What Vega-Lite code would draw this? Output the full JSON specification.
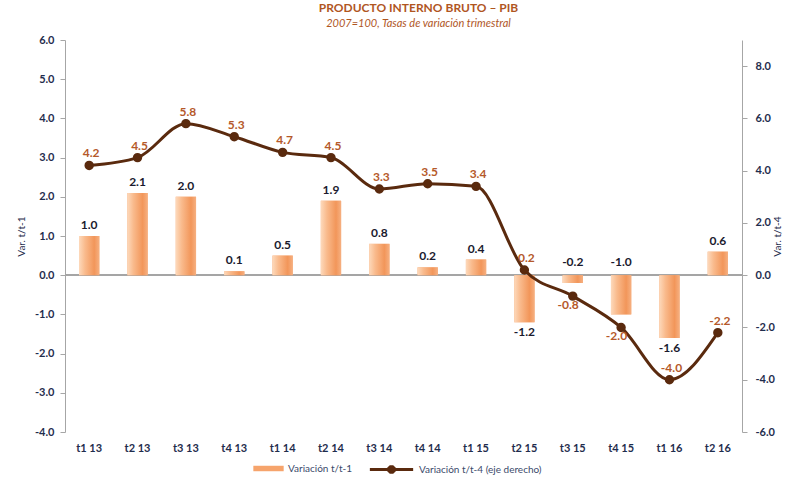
{
  "$schema": "https://vega.github.io/schema/vega-lite/v6.json",
  "width": 677,
  "height": 392,
  "autosize": {"type": "none"},
  "padding": {"left": 65, "top": 40, "right": 46, "bottom": 45},
  "background": "white",
  "config": {
    "view": {"stroke": null},
    "font": "Lato",
    "locale": {"number": {"decimal": ".", "thousands": ",", "grouping": [3], "currency": ["$", ""], "minus": "-"}}
  },
  "title": {
    "text": "PRODUCTO INTERNO BRUTO – PIB",
    "subtitle": "2007=100, Tasas de variación trimestral",
    "anchor": "middle",
    "dx": 15,
    "offset": 4,
    "fontSize": 12,
    "fontWeight": "bold",
    "color": "#b0561f",
    "subtitleFontSize": 11,
    "subtitleFontStyle": "italic",
    "subtitleColor": "#b0561f",
    "subtitlePadding": 3,
    "font": "Lato",
    "subtitleFont": "Lato"
  },
  "data": {
    "values": [
      {"t": "t1 13", "v1": 1.0, "v4": 4.2},
      {"t": "t2 13", "v1": 2.1, "v4": 4.5},
      {"t": "t3 13", "v1": 2.0, "v4": 5.8},
      {"t": "t4 13", "v1": 0.1, "v4": 5.3},
      {"t": "t1 14", "v1": 0.5, "v4": 4.7},
      {"t": "t2 14", "v1": 1.9, "v4": 4.5},
      {"t": "t3 14", "v1": 0.8, "v4": 3.3},
      {"t": "t4 14", "v1": 0.2, "v4": 3.5},
      {"t": "t1 15", "v1": 0.4, "v4": 3.4},
      {"t": "t2 15", "v1": -1.2, "v4": 0.2},
      {"t": "t3 15", "v1": -0.2, "v4": -0.8},
      {"t": "t4 15", "v1": -1.0, "v4": -2.0},
      {"t": "t1 16", "v1": -1.6, "v4": -4.0},
      {"t": "t2 16", "v1": 0.6, "v4": -2.2}
    ]
  },
  "encoding": {
    "x": {
      "field": "t",
      "type": "ordinal",
      "sort": null,
      "scale": {"paddingInner": 0.58, "paddingOuter": 0.29},
      "axis": {
        "title": null,
        "domain": false,
        "ticks": false,
        "labelAngle": 0,
        "labelPadding": 10,
        "labelFont": "Lato",
        "labelFontSize": 11,
        "labelFontWeight": "bold",
        "labelColor": "#1f2d4d"
      }
    }
  },
  "layer": [
    {
      "encoding": {
        "y": {
          "field": "v1",
          "type": "quantitative",
          "scale": {"domain": [-4, 6], "nice": false, "zero": false},
          "axis": {
            "orient": "left",
            "title": "Var. t/t-1",
            "titleFont": "Lato",
            "titleFontSize": 10,
            "titleFontWeight": "normal",
            "titleColor": "#1f2d4d",
            "titlePadding": 8,
            "values": [-4, -3, -2, -1, 0, 1, 2, 3, 4, 5, 6],
            "format": ".1f",
            "grid": false,
            "domainColor": "#a6a6a6",
            "tickColor": "#a6a6a6",
            "tickSize": 5,
            "labelPadding": 6,
            "labelFont": "Lato",
            "labelFontSize": 11,
            "labelFontWeight": "bold",
            "labelColor": "#1f2d4d"
          }
        }
      },
      "layer": [
        {
          "mark": {"type": "rule", "color": "#a6a6a6", "strokeWidth": 1},
          "encoding": {"y": {"datum": 0}, "x": {"value": 0}, "x2": {"value": "width"}}
        },
        {
          "mark": {"type": "bar"},
          "encoding": {
            "fill": {
              "datum": "Variación t/t-1",
              "scale": {"range": ["#f6a46c"]},
              "legend": {
                "title": null,
                "orient": "none",
                "legendX": 188,
                "legendY": 413,
                "symbolType": "M-1,-0.18H1V0.18H-1Z",
                "symbolSize": 920,
                "symbolStrokeWidth": 0,
                "labelFont": "Lato",
                "labelFontSize": 10,
                "labelColor": "#3b4a6b"
              }
            }
          }
        },
        {
          "mark": {
            "type": "bar",
            "fill": {
              "gradient": "linear",
              "x1": 0, "x2": 1, "y1": 0, "y2": 0,
              "stops": [
                {"offset": 0, "color": "#fdd9bb"},
                {"offset": 0.3, "color": "#f9ba8c"},
                {"offset": 0.75, "color": "#f2965a"},
                {"offset": 1, "color": "#f6b081"}
              ]
            }
          }
        },
        {
          "transform": [{"filter": "datum.v1 >= 0"}],
          "mark": {"type": "text", "baseline": "bottom", "dy": -4, "font": "Lato", "fontSize": 12, "fontWeight": "bold", "color": "#1a1a2e"},
          "encoding": {"text": {"field": "v1", "type": "quantitative", "format": ".1f"}}
        },
        {
          "transform": [{"filter": "datum.v1 < 0 && datum.v1 >= -1.05"}],
          "mark": {"type": "text", "baseline": "bottom", "dy": -6, "font": "Lato", "fontSize": 12, "fontWeight": "bold", "color": "#1a1a2e"},
          "encoding": {"y": {"datum": 0}, "text": {"field": "v1", "type": "quantitative", "format": ".1f"}}
        },
        {
          "transform": [{"filter": "datum.v1 < -1.05"}],
          "mark": {"type": "text", "baseline": "top", "dy": 5, "font": "Lato", "fontSize": 12, "fontWeight": "bold", "color": "#1a1a2e"},
          "encoding": {"text": {"field": "v1", "type": "quantitative", "format": ".1f"}}
        }
      ]
    },
    {
      "encoding": {
        "y": {
          "field": "v4",
          "type": "quantitative",
          "scale": {"domain": [-6, 9], "nice": false, "zero": false},
          "axis": {
            "orient": "right",
            "title": "Var. t/t-4",
            "titleAngle": 270,
            "titleFont": "Lato",
            "titleFontSize": 10,
            "titleFontWeight": "normal",
            "titleColor": "#1f2d4d",
            "titlePadding": 8,
            "values": [-6, -4, -2, 0, 2, 4, 6, 8],
            "format": ".1f",
            "grid": false,
            "domainColor": "#a6a6a6",
            "tickColor": "#a6a6a6",
            "tickSize": 5,
            "labelPadding": 8,
            "labelFont": "Lato",
            "labelFontSize": 11,
            "labelFontWeight": "bold",
            "labelColor": "#1f2d4d"
          }
        }
      },
      "layer": [
        {
          "mark": {
            "type": "line",
            "interpolate": "monotone",
            "strokeWidth": 3,
            "point": {"filled": true, "size": 55, "color": "#5a2a0e"}
          },
          "encoding": {
            "stroke": {
              "datum": "Variación t/t-4 (eje derecho)",
              "scale": {"range": ["#5a2a0e"]},
              "legend": {
                "title": null,
                "orient": "none",
                "legendX": 303,
                "legendY": 406,
                "symbolType": "M-1,0H1M-0.13,-0.05L-0.05,-0.13L0.05,-0.13L0.13,-0.05L0.13,0.05L0.05,0.13L-0.05,0.13L-0.13,0.05Z",
                "symbolSize": 1875,
                "symbolStrokeWidth": 3,
                "symbolFillColor": "#5a2a0e",
                "labelFont": "Lato",
                "labelFontSize": 10,
                "labelColor": "#3b4a6b"
              }
            }
          }
        },
        {
          "transform": [{"filter": "datum.v4 > -0.5 || datum.v4 < -2.1"}],
          "mark": {"type": "text", "baseline": "bottom", "dy": -5, "dx": 2, "font": "Lato", "fontSize": 12, "fontWeight": "bold", "color": "#b5592a"},
          "encoding": {"text": {"field": "v4", "type": "quantitative", "format": ".1f"}}
        },
        {
          "transform": [{"filter": "datum.v4 <= -0.5 && datum.v4 >= -2.1"}],
          "mark": {"type": "text", "baseline": "top", "align": "right", "dy": 4, "dx": 6, "font": "Lato", "fontSize": 12, "fontWeight": "bold", "color": "#b5592a"},
          "encoding": {"text": {"field": "v4", "type": "quantitative", "format": ".1f"}}
        }
      ]
    }
  ],
  "resolve": {"scale": {"y": "independent", "fill": "independent", "stroke": "independent"}}
}
